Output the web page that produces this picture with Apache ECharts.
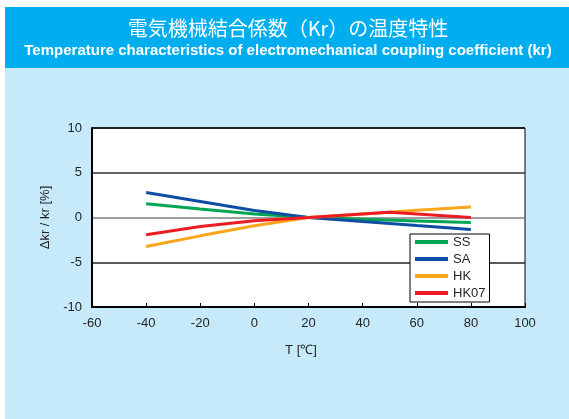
<!DOCTYPE html>
<html>
<head>
<meta charset="utf-8">
<script src="https://cdn.jsdelivr.net/npm/echarts@6/dist/echarts.min.js"></script>
<style>
html,body{margin:0;padding:0;background:#fff;}
#c{width:569px;height:419px;}
</style>
</head>
<body>
<div id="c"></div>
<script>
const titleJa = '電気機械結合係数（Kr）の温度特性';
const titleEn = 'Temperature characteristics of electromechanical coupling coefficient (kr)';
const xName = 'T [℃]';
const yName = 'Δkr / kr [%]';

const temps = [-40, -20, 0, 20, 40, 60, 80];
const ssValues = [1.53, 0.94, 0.38, 0, -0.2, -0.38, -0.56];
const saValues = [2.79, 1.79, 0.78, 0, -0.45, -0.9, -1.34];
const hkValues = [-3.24, -2.05, -0.93, 0, 0.4, 0.8, 1.16];
const hk07Temps = [-40, -20, 0, 20, 50, 80];
const hk07Values = [-1.93, -1.0, -0.37, 0, 0.6, 0];

const seriesNames = ['SS', 'SA', 'HK', 'HK07'];
const seriesColors = ['#00a651', '#0d4ea2', '#faa61a', '#ed1c24'];

function pairs(xs, ys) { return xs.map((x, i) => [x, ys[i]]); }

const seriesData = [
  pairs(temps, ssValues),
  pairs(temps, saValues),
  pairs(temps, hkValues),
  pairs(hk07Temps, hk07Values)
];

const chart = echarts.init(document.getElementById('c'), null, {renderer: 'canvas'});
const axisFont = {color: '#231f20', fontSize: 13, fontFamily: 'Liberation Sans, Arial, sans-serif'};

chart.setOption({
  animation: false,
  backgroundColor: '#ffffff',
  graphic: [
    {type: 'rect', z: -10, shape: {x: 5, y: 68, width: 564, height: 351}, style: {fill: '#c6eaf9'}},
    {type: 'rect', z: -10, shape: {x: 5, y: 7, width: 564, height: 61}, style: {fill: '#00aeef'}},
    {type: 'rect', z: -9, shape: {x: 92, y: 128, width: 433, height: 179}, style: {fill: '#ffffff'}},
    {type: 'text', x: 288, y: 28, style: {text: titleJa, fill: '#ffffff', font: '20px "Noto Sans CJK JP"', textAlign: 'center', textVerticalAlign: 'middle'}},
    {type: 'text', x: 288, y: 51, style: {text: titleEn, fill: '#ffffff', font: 'bold 15px "Liberation Sans"', textAlign: 'center', textVerticalAlign: 'middle'}},
    {type: 'text', x: 301, y: 350, style: {text: xName, fill: '#231f20', font: '13px "Liberation Sans"', textAlign: 'center', textVerticalAlign: 'middle'}}
  ],
  grid: {left: 92, top: 128, width: 433, height: 179, show: true, borderColor: '#000', borderWidth: 1, backgroundColor: 'transparent'},
  legend: {
    data: seriesNames,
    orient: 'vertical',
    left: 410, top: 234,
    backgroundColor: '#ffffff',
    borderColor: '#000', borderWidth: 1,
    padding: [1, 4, 2, 5],
    itemWidth: 33, itemHeight: 4, itemGap: 3,
    icon: 'rect',
    textStyle: {color: '#231f20', fontSize: 13, lineHeight: 14, fontFamily: 'Liberation Sans'}
  },
  xAxis: {
    type: 'value', min: -60, max: 100, interval: 20,
    axisLine: {show: true, onZero: false, lineStyle: {color: '#000', width: 2}},
    axisTick: {show: true, inside: true, length: 4, lineStyle: {color: '#000'}},
    axisLabel: Object.assign({margin: 10}, axisFont),
    splitLine: {show: false}
  },
  yAxis: {
    type: 'value', min: -10, max: 10, interval: 5,
    name: yName, nameLocation: 'middle', nameGap: 33,
    nameTextStyle: axisFont,
    axisLine: {show: true, onZero: false, lineStyle: {color: '#000', width: 2}},
    axisTick: {show: false},
    axisLabel: Object.assign({margin: 10}, axisFont),
    splitLine: {show: true, lineStyle: {color: ['#000', '#222', '#7f7f7f', '#333', '#000'], width: 1.5}}
  },
  series: seriesNames.map((n, i) => ({
    name: n, type: 'line', data: seriesData[i],
    symbol: 'none', smooth: false,
    lineStyle: {color: seriesColors[i], width: 3},
    itemStyle: {color: seriesColors[i]}
  }))
});
</script>
</body>
</html>
